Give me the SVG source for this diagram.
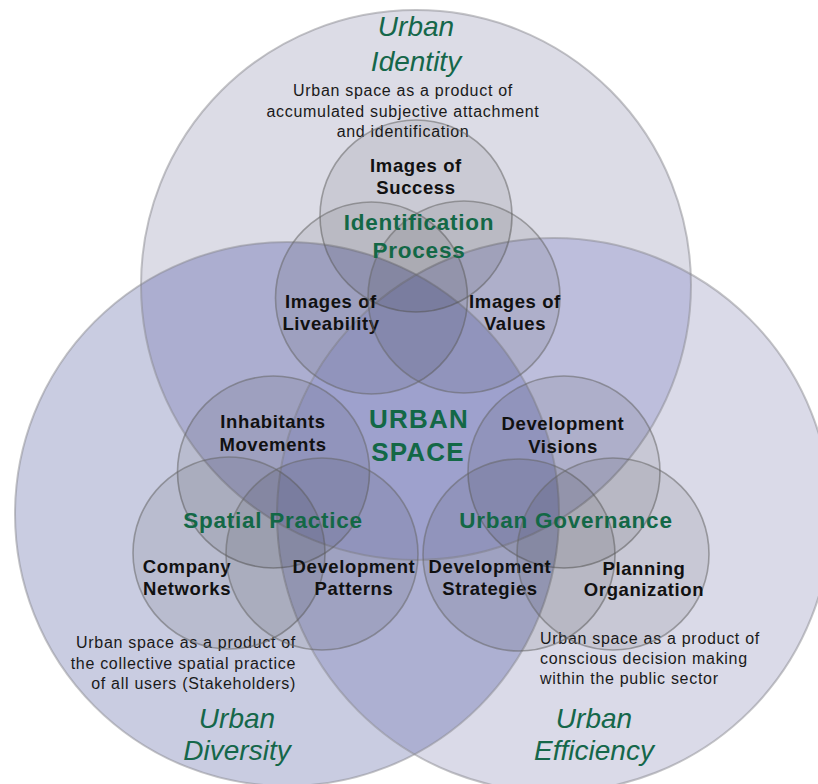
<svg xmlns="http://www.w3.org/2000/svg" width="818" height="784" viewBox="0 0 818 784">
<style>
text{font-family:"Liberation Sans",Arial,Helvetica,sans-serif}
.ttl{font-style:italic;font-size:28px;fill:#15674a;text-anchor:middle}
.desc{font-size:16px;letter-spacing:0.7px;fill:#1a1a1a}
.lbl{font-weight:bold;font-size:18.5px;letter-spacing:0.6px;fill:#111;text-anchor:middle}
.grp{font-weight:bold;font-size:22.5px;letter-spacing:0.75px;fill:#136846;text-anchor:middle}
.core{font-weight:bold;font-size:26px;letter-spacing:1.2px;fill:#136846;text-anchor:middle}
.bigline{fill:none;stroke:#8a8a90;stroke-opacity:0.5;stroke-width:2}
.small{fill:#000;fill-opacity:0.08;stroke:#666;stroke-opacity:0.55;stroke-width:1.6}
</style>
<defs>
<clipPath id="cT"><circle cx="416" cy="285" r="275"/></clipPath>
<clipPath id="cL"><circle cx="287" cy="514" r="272"/></clipPath>
<clipPath id="cR"><circle cx="554" cy="515" r="277"/></clipPath>
</defs>
<rect width="818" height="784" fill="#ffffff"/>
<g id="big-fills">
<circle cx="416" cy="285" r="275" fill="#dcdce6"/>
<circle cx="287" cy="514" r="272" fill="#c9cce1"/>
<circle cx="554" cy="515" r="277" fill="#dadae8"/>
<g clip-path="url(#cT)"><circle cx="287" cy="514" r="272" fill="#acaed0"/></g>
<g clip-path="url(#cT)"><circle cx="554" cy="515" r="277" fill="#bdbedc"/></g>
<g clip-path="url(#cL)"><circle cx="554" cy="515" r="277" fill="#adb0d2"/></g>
<g clip-path="url(#cT)"><g clip-path="url(#cL)"><circle cx="554" cy="515" r="277" fill="#9ea1cd"/></g></g>
</g>
<g id="urban-identity">
<circle class="bigline" cx="416" cy="285" r="275"/>
<text class="ttl" x="416" y="36">Urban</text>
<text class="ttl" x="416" y="71">Identity</text>
<text class="desc" text-anchor="middle" x="403" y="96">Urban space as a product of</text>
<text class="desc" text-anchor="middle" x="403" y="116.5">accumulated subjective attachment</text>
<text class="desc" text-anchor="middle" x="403" y="137">and identification</text>
</g>
<g id="urban-diversity">
<circle class="bigline" cx="287" cy="514" r="272"/>
<text class="desc" text-anchor="end" x="296" y="648">Urban space as a product of</text>
<text class="desc" text-anchor="end" x="296" y="669">the collective spatial practice</text>
<text class="desc" text-anchor="end" x="296" y="689">of all users (Stakeholders)</text>
<text class="ttl" x="237" y="728">Urban</text>
<text class="ttl" x="237" y="760">Diversity</text>
</g>
<g id="urban-efficiency">
<circle class="bigline" cx="554" cy="515" r="277"/>
<text class="desc" x="540" y="644">Urban space as a product of</text>
<text class="desc" x="540" y="664">conscious decision making</text>
<text class="desc" x="540" y="684">within the public sector</text>
<text class="ttl" x="594" y="728">Urban</text>
<text class="ttl" x="594" y="760">Efficiency</text>
</g>
<g id="images-of-success">
<circle class="small" cx="416" cy="216" r="96"/>
<text class="lbl" x="416" y="172">Images of</text>
<text class="lbl" x="416" y="194">Success</text>
</g>
<g id="images-of-liveability">
<circle class="small" cx="371.5" cy="298" r="96"/>
<text class="lbl" x="331" y="308">Images of</text>
<text class="lbl" x="331" y="330">Liveability</text>
</g>
<g id="images-of-values">
<circle class="small" cx="464" cy="297" r="96"/>
<text class="lbl" x="515" y="308">Images of</text>
<text class="lbl" x="515" y="330">Values</text>
</g>
<g id="identification-process">
<text class="grp" x="419" y="230">Identification</text>
<text class="grp" x="419" y="258">Process</text>
</g>
<g id="inhabitants-movements">
<circle class="small" cx="273.5" cy="472" r="96"/>
<text class="lbl" x="273" y="428">Inhabitants</text>
<text class="lbl" x="273" y="451">Movements</text>
</g>
<g id="company-networks">
<circle class="small" cx="229" cy="553" r="96"/>
<text class="lbl" x="187" y="573">Company</text>
<text class="lbl" x="187" y="595">Networks</text>
</g>
<g id="development-patterns">
<circle class="small" cx="322" cy="554" r="96"/>
<text class="lbl" x="354" y="573">Development</text>
<text class="lbl" x="354" y="595">Patterns</text>
</g>
<g id="spatial-practice">
<text class="grp" x="273" y="528">Spatial Practice</text>
</g>
<g id="development-visions">
<circle class="small" cx="564" cy="472" r="96"/>
<text class="lbl" x="563" y="430">Development</text>
<text class="lbl" x="563" y="453">Visions</text>
</g>
<g id="development-strategies">
<circle class="small" cx="519" cy="555" r="96"/>
<text class="lbl" x="490" y="573">Development</text>
<text class="lbl" x="490" y="595">Strategies</text>
</g>
<g id="planning-organization">
<circle class="small" cx="613" cy="554" r="96"/>
<text class="lbl" x="644" y="575">Planning</text>
<text class="lbl" x="644" y="596">Organization</text>
</g>
<g id="urban-governance">
<text class="grp" x="566" y="528">Urban Governance</text>
</g>
<g id="urban-space">
<text class="core" x="419" y="428">URBAN</text>
<text class="core" x="418" y="461">SPACE</text>
</g>
<g id="connectors"/>
</svg>
